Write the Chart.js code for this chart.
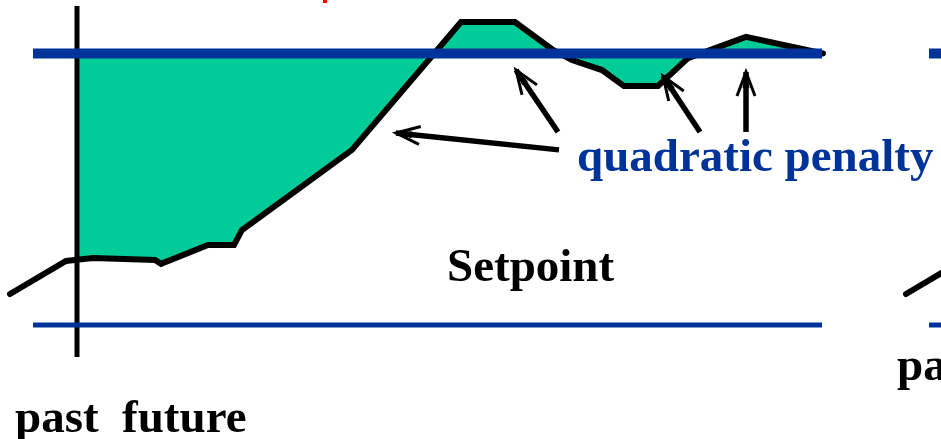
<!DOCTYPE html>
<html>
<head>
<meta charset="utf-8">
<title>Setpoint - quadratic penalty</title>
<script src="https://cdn.jsdelivr.net/npm/chart.js@4.4.0/dist/chart.umd.min.js"></script>
<style>
  html, body { margin: 0; padding: 0; background: #fff; }
  #wrap { position: relative; width: 941px; height: 439px; overflow: hidden; }
  #chartBox { position: absolute; left: 0; top: 0; width: 941px; height: 439px; }
  .lbl {
    position: absolute;
    font-family: "Liberation Serif", "DejaVu Serif", serif;
    font-weight: bold;
    font-size: 47px;
    line-height: 1;
    white-space: pre;
  }
</style>
</head>
<body>
<div id="wrap">
  <div id="chartBox"><canvas id="mpcChart"></canvas></div>
  <div class="lbl" style="left:577px;top:132px;color:#003399;">quadratic penalty</div>
  <div class="lbl" style="left:447px;top:242px;color:#000;">Setpoint</div>
  <div class="lbl" style="left:15px;top:393px;color:#000;">past  future</div>
  <div class="lbl" style="left:897px;top:341px;color:#000;">past</div>
</div>
<script>
  // time axis: 0 = now, output axis: lower limit 0, setpoint 100
  var trajT = [-6.7, -1.1, 0, 1.6, 7.8, 8.4, 13.1, 15.7, 16.5, 27.5, 38.4, 43.8, 47.6, 49.5, 52.5, 54.7, 58.1, 61.1, 66.9, 74.6];
  var trajY = [11.4, 23.6, 24.0, 24.7, 23.9, 22.5, 29.5, 29.5, 35.0, 64.5, 111.6, 111.6, 101.3, 97.6, 93.9, 88.0, 88.0, 98.3, 106.1, 100];

  var SETPOINT = 100;
  var LOWER = 0;
  var horizonT = [-4.4, 74.5];
  var nowT = 0;
  var nowY = [-11.8, 117.5];

  // arrows: tail -> tip
  var arrowTailT = [48.2, 48.1, 62.3, 66.9];
  var arrowTailY = [64.5, 71.1, 71.1, 71.1];
  var arrowTipT = [31.9, 43.9, 58.6, 66.9];
  var arrowTipY = [70.7, 93.9, 91.7, 93.2];

  // the next slide panel peeks in at the right
  var PANEL_SHIFT = 89.6;
  var markT = 24.8;
  var markY = [118.6, 121];

  var BLUE = '#003399';
  var GREEN = '#00cc99';

  function pts(xs, ys, shift) {
    return xs.map(function(x, i) { return { x: x + (shift || 0), y: ys[i] }; });
  }
  function hline(xs, y, shift) {
    return xs.map(function(x) { return { x: x + (shift || 0), y: y }; });
  }

  var trajPts = pts(trajT, trajY);
  var futurePts = trajPts.filter(function(p) { return p.x >= nowT; });

  function lineSet(data, color, width, order, extra) {
    var ds = {
      data: data,
      showLine: true,
      borderColor: color,
      borderWidth: width,
      pointRadius: 0,
      pointHoverRadius: 0,
      tension: 0,
      fill: false,
      borderCapStyle: 'butt',
      order: order,
      clip: false
    };
    for (var k in extra) ds[k] = extra[k];
    return ds;
  }

  var datasets = [];
  // green penalty area between future trajectory and setpoint
  datasets.push(lineSet(futurePts, 'rgba(0,0,0,0)', 0, 9, {
    fill: { value: SETPOINT }, backgroundColor: GREEN
  }));
  datasets.push(lineSet(trajPts, '#000', 6, 8, { borderCapStyle: 'round', borderJoinStyle: 'miter' }));
  datasets.push(lineSet(pts(trajT, trajY, PANEL_SHIFT), '#000', 6, 8, { borderCapStyle: 'round' }));
  datasets.push(lineSet([{ x: nowT, y: nowY[0] }, { x: nowT, y: nowY[1] }], '#000', 5, 7));
  datasets.push(lineSet(hline(horizonT, SETPOINT), BLUE, 10, 6));
  datasets.push(lineSet(hline(horizonT, LOWER), BLUE, 5, 6));
  datasets.push(lineSet(hline(horizonT, SETPOINT, PANEL_SHIFT), BLUE, 10, 6));
  datasets.push(lineSet(hline(horizonT, LOWER, PANEL_SHIFT), BLUE, 5, 6));
  datasets.push(lineSet([{ x: markT, y: markY[0] }, { x: markT, y: markY[1] }], '#ff0000', 4, 2));

  var firstArrow = datasets.length;
  for (var i = 0; i < arrowTailT.length; i++) {
    datasets.push(lineSet([
      { x: arrowTailT[i], y: arrowTailY[i] },
      { x: arrowTipT[i], y: arrowTipY[i] }
    ], '#000', 5.5, 1));
  }

  // open arrow heads at the tip end of each arrow dataset
  var arrowHeads = {
    id: 'arrowHeads',
    afterDatasetsDraw: function(chart) {
      var c = chart.ctx;
      c.save();
      c.strokeStyle = '#000';
      c.fillStyle = '#000';
      c.lineWidth = 3;
      c.lineJoin = 'miter';
      for (var j = firstArrow; j < chart.data.datasets.length; j++) {
        var m = chart.getDatasetMeta(j).data;
        var a = m[0], b = m[1];
        var ang = Math.atan2(b.y - a.y, b.x - a.x);
        var len = 24, wid = 9;
        var bx = b.x - len * Math.cos(ang), by = b.y - len * Math.sin(ang);
        var nx = -Math.sin(ang), ny = Math.cos(ang);
        c.beginPath();
        c.moveTo(bx + nx * wid, by + ny * wid);
        c.lineTo(b.x, b.y);
        c.lineTo(bx - nx * wid, by - ny * wid);
        c.stroke();
        c.beginPath();
        c.moveTo(b.x, b.y);
        c.lineTo(b.x - 16 * Math.cos(ang) + nx * 3.5, b.y - 16 * Math.sin(ang) + ny * 3.5);
        c.lineTo(b.x - 16 * Math.cos(ang) - nx * 3.5, b.y - 16 * Math.sin(ang) - ny * 3.5);
        c.closePath();
        c.fill();
      }
      c.restore();
    }
  };

  var chart = new Chart(document.getElementById('mpcChart'), {
    type: 'scatter',
    data: { datasets: datasets },
    options: {
      responsive: true,
      maintainAspectRatio: false,
      animation: false,
      events: [],
      layout: { padding: 0 },
      plugins: {
        legend: { display: false },
        tooltip: { enabled: false },
        title: { display: false }
      },
      scales: {
        x: { type: 'linear', min: -7.7, max: 86.4, display: false },
        y: { type: 'linear', min: -42.0, max: 119.7, display: false }
      }
    },
    plugins: [arrowHeads]
  });
</script>
</body>
</html>
